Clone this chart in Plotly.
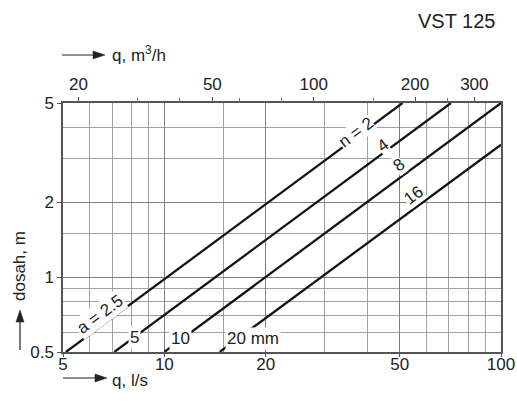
import numpy as np
import plotly.graph_objects as go

# ---- data ----
q_start_ls = [5.1, 7.1, 10.0, 14.6]     # l/s where each line starts (h = 0.5 m)
h_start_m = [0.5, 0.5, 0.5, 0.5]
q_end_ls = [51.0, 71.0, 100.0, 100.0]   # l/s where each line ends
h_end_m = [5.0, 5.0, 5.0, 3.4]
a_labels = ["a = 2.5", "5", "10", "20 mm"]
n_labels = ["n = 2", "4", "8", "16"]

x_ticks_ls = [5, 10, 20, 50, 100]
x_minor_ls = [6, 7, 8, 9, 15, 30, 40, 60, 70, 80, 90]
y_ticks_m = [0.5, 1, 2, 5]
y_minor_m = [0.6, 0.7, 0.8, 0.9, 1.5, 3, 4]
top_ticks_m3h = [20, 50, 100, 200, 300]
top_minor_m3h = [30, 40, 60, 80, 150, 250]
M3H_PER_LS = 3.6

FONT = "Liberation Sans Narrow, Liberation Sans, Arial, sans-serif"
L, R, T, B = 63, 16, 103, 49
W, H = 517, 401
PW, PH = W - L - R, H - T - B


def px2paper(px, py):
    return (px - L) / PW, (H - B - py) / PH


def h_on_line(i, q):
    s = np.log10(h_end_m[i] / h_start_m[i]) / np.log10(q_end_ls[i] / q_start_ls[i])
    return h_start_m[i] * (q / q_start_ls[i]) ** s


fig = go.Figure()
for i in range(len(q_start_ls)):
    fig.add_trace(go.Scatter(
        x=[q_start_ls[i], q_end_ls[i]], y=[h_start_m[i], h_end_m[i]],
        mode="lines", line=dict(color="#151515", width=2.3),
        showlegend=False, hoverinfo="skip"))

# invisible trace to make the top axis render
fig.add_trace(go.Scatter(x=[q_start_ls[0] * M3H_PER_LS], y=[h_start_m[0]],
                         xaxis="x2", mode="markers", marker=dict(opacity=0),
                         showlegend=False, hoverinfo="skip"))

# label placement (q in l/s, shifts in px)
n_pos = [(37.1, 0, 5), (44.6, 0, 8), (49.5, 0, 14), (54.5, 1, 15)]
a_pos = [(6.44, 0, 12), (8.18, 0, -1), (11.2, 0, 1), (17.3, 9, -5)]
ANG = -36.6
ann = []
for i, (q, xs, ys) in enumerate(n_pos):
    ann.append(dict(x=np.log10(q), y=np.log10(h_on_line(i, q)), xref="x", yref="y",
                    text=n_labels[i], showarrow=False, textangle=ANG,
                    xshift=xs, yshift=ys, bgcolor="white", borderpad=0,
                    font=dict(size=17, color="#222", family=FONT)))
for i, (q, xs, ys) in enumerate(a_pos):
    ang = ANG if i == 0 else 0
    ann.append(dict(x=np.log10(q), y=np.log10(h_on_line(i, q)), xref="x", yref="y",
                    text=a_labels[i], showarrow=False, textangle=ang,
                    xshift=xs, yshift=ys, bgcolor="white", borderpad=1,
                    font=dict(size=17, color="#222", family=FONT)))

# axis titles and header
x, y = px2paper(110, 54)
ann.append(dict(x=x, y=y, xref="paper", yref="paper", xanchor="left", yanchor="middle",
                text="q, m<sup>3</sup>/h", showarrow=False,
                font=dict(size=17, color="#222", family=FONT)))
x, y = px2paper(110, 380)
ann.append(dict(x=x, y=y, xref="paper", yref="paper", xanchor="left", yanchor="middle",
                text="q, l/s", showarrow=False,
                font=dict(size=17, color="#222", family=FONT)))
x, y = px2paper(19, 266)
ann.append(dict(x=x, y=y, xref="paper", yref="paper", xanchor="center", yanchor="middle",
                text="dosah, m", showarrow=False, textangle=-90,
                font=dict(size=17, color="#222", family=FONT)))
x, y = px2paper(497, 21)
ann.append(dict(x=x, y=y, xref="paper", yref="paper", xanchor="right", yanchor="middle",
                text="VST 125", showarrow=False,
                font=dict(size=20, color="#222", family="Liberation Sans, Arial, sans-serif")))

shapes = []


def harrow(x0, x1, yy):
    a0, b0 = px2paper(x0, yy)
    a1, _ = px2paper(x1 - 10, yy)
    shapes.append(dict(type="line", xref="paper", yref="paper", x0=a0, y0=b0, x1=a1, y1=b0,
                       line=dict(color="#222", width=1.2)))
    p1 = px2paper(x1 - 12, yy - 4)
    p2 = px2paper(x1, yy)
    p3 = px2paper(x1 - 12, yy + 4)
    shapes.append(dict(type="path", xref="paper", yref="paper",
                       path=f"M{p1[0]},{p1[1]} L{p2[0]},{p2[1]} L{p3[0]},{p3[1]} Z",
                       fillcolor="#222", line=dict(color="#222", width=0.5)))


def varrow(xx, y0, y1):
    a0, b0 = px2paper(xx, y0)
    _, b1 = px2paper(xx, y1 + 10)
    shapes.append(dict(type="line", xref="paper", yref="paper", x0=a0, y0=b0, x1=a0, y1=b1,
                       line=dict(color="#222", width=1.2)))
    p1 = px2paper(xx - 4, y1 + 12)
    p2 = px2paper(xx, y1)
    p3 = px2paper(xx + 4, y1 + 12)
    shapes.append(dict(type="path", xref="paper", yref="paper",
                       path=f"M{p1[0]},{p1[1]} L{p2[0]},{p2[1]} L{p3[0]},{p3[1]} Z",
                       fillcolor="#222", line=dict(color="#222", width=0.5)))


harrow(62, 105, 55)
harrow(63, 107, 378)
varrow(20, 350, 310)

tickfont = dict(size=17, color="#222", family=FONT)
fig.update_layout(
    width=W, height=H, autosize=False,
    margin=dict(l=L, r=R, t=T, b=B, pad=0, autoexpand=False),
    paper_bgcolor="white", plot_bgcolor="white",
    showlegend=False,
    xaxis=dict(type="log", range=[np.log10(5), np.log10(100)], automargin=False,
               tickmode="array", tickvals=x_ticks_ls, ticktext=[str(v) for v in x_ticks_ls],
               ticks="outside", ticklen=3, tickcolor="#555", tickfont=tickfont,
               ticklabelstandoff=-7,
               showgrid=True, gridcolor="#808080", gridwidth=1.2,
               minor=dict(tickmode="array", tickvals=x_minor_ls, showgrid=True,
                          gridcolor="#a0a0a0", gridwidth=1, ticks=""),
               showline=True, linecolor="#555", linewidth=1.5, mirror=True,
               zeroline=False, fixedrange=True),
    yaxis=dict(type="log", range=[np.log10(0.5), np.log10(5)], automargin=False,
               tickmode="array", tickvals=y_ticks_m, ticktext=[str(v) for v in y_ticks_m],
               ticks="outside", ticklen=4, tickcolor="#555", tickfont=tickfont,
               showgrid=True, gridcolor="#808080", gridwidth=1.2,
               minor=dict(tickmode="array", tickvals=y_minor_m, showgrid=True,
                          gridcolor="#a0a0a0", gridwidth=1, ticks=""),
               showline=True, linecolor="#555", linewidth=1.5, mirror=True,
               zeroline=False, fixedrange=True),
    xaxis2=dict(type="log", overlaying="x", side="top", automargin=False,
                range=[np.log10(5 * M3H_PER_LS), np.log10(100 * M3H_PER_LS)],
                tickmode="array", tickvals=top_ticks_m3h,
                ticktext=[str(v) for v in top_ticks_m3h],
                ticks="outside", ticklen=5, tickcolor="#555", tickfont=tickfont,
                minor=dict(tickmode="array", tickvals=top_minor_m3h, ticks="outside",
                           ticklen=4, tickcolor="#777"),
                showgrid=False, zeroline=False, showline=False, fixedrange=True),
    annotations=ann,
    shapes=shapes,
)

fig.write_html("out.html")
